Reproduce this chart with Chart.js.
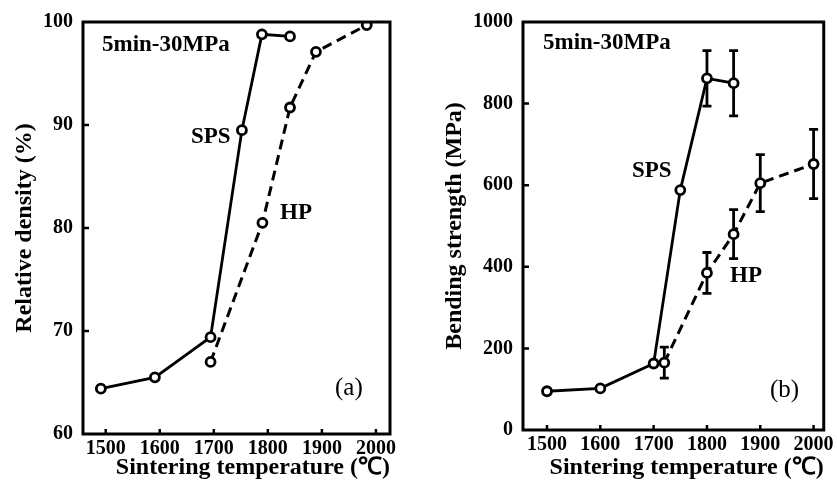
<!DOCTYPE html>
<html>
<head>
<meta charset="utf-8">
<script src="https://cdn.jsdelivr.net/npm/chart.js@4.4.1/dist/chart.umd.min.js"></script>
<style>
  html, body { margin: 0; padding: 0; background: #fff; }
  #wrap { position: relative; width: 837px; height: 490px; }
  .panel { position: absolute; top: 0; height: 490px; }
  #left { left: 0; width: 418px; }
  #right { left: 418px; width: 419px; }
</style>
</head>
<body>
<div id="wrap">
  <div class="panel" id="left"><canvas id="densityChart"></canvas></div>
  <div class="panel" id="right"><canvas id="strengthChart"></canvas></div>
</div>
<script>
// tick labels
const tempTicks = [1500, 1600, 1700, 1800, 1900, 2000];
const densityTicks = [60, 70, 80, 90, 100];
const strengthTicks = [0, 200, 400, 600, 800, 1000];

// (a) relative density
const densSpsTemp = [1491, 1591, 1694, 1752, 1789, 1841];
const densSps = [64.4, 65.5, 69.4, 89.5, 98.8, 98.6];
const densHpTemp = [1694, 1790, 1841, 1889, 1983];
const densHp = [67.0, 80.5, 91.7, 97.1, 99.7];

// (b) bending strength, with +/- error
const strSpsTemp = [1500, 1600, 1700, 1750, 1800, 1850];
const strSps = [95, 102, 163, 588, 862, 850];
const strSpsErr = [0, 0, 0, 0, 68, 80];
const strHpTemp = [1720, 1800, 1850, 1900, 2000];
const strHp = [165, 385, 480, 605, 652];
const strHpErr = [38, 50, 60, 70, 85];

const FONT = '"Liberation Serif", "Times New Roman", serif';

function pts(xs, ys) {
  return xs.map((x, i) => ({ x: x, y: ys[i] }));
}

// error bars drawn under the markers
const errorBars = {
  id: 'errorBars',
  beforeDatasetsDraw(chart, args, opts) {
    if (!opts.sets) return;
    const ctx = chart.ctx;
    const xs = chart.scales.x, ys = chart.scales.y;
    ctx.save();
    ctx.strokeStyle = '#000';
    ctx.lineWidth = 2.8;
    opts.sets.forEach(s => {
      s.x.forEach((t, i) => {
        const e = s.err[i];
        if (!e) return;
        const px = xs.getPixelForValue(t);
        const top = ys.getPixelForValue(s.y[i] + e);
        const bot = ys.getPixelForValue(s.y[i] - e);
        ctx.beginPath();
        ctx.moveTo(px, top); ctx.lineTo(px, bot);
        ctx.moveTo(px - 4.5, top); ctx.lineTo(px + 4.5, top);
        ctx.moveTo(px - 4.5, bot); ctx.lineTo(px + 4.5, bot);
        ctx.stroke();
      });
    });
    ctx.restore();
  }
};

// box frame, inward ticks and text labels
const frame = {
  id: 'frame',
  afterDraw(chart, args, opts) {
    const ctx = chart.ctx;
    const a = chart.chartArea;
    const xs = chart.scales.x, ys = chart.scales.y;
    ctx.save();
    ctx.strokeStyle = '#000';
    ctx.lineWidth = 3;
    ctx.strokeRect(a.left, a.top, a.right - a.left, a.bottom - a.top);
    ctx.lineWidth = 2.5;
    ctx.beginPath();
    xs.ticks.forEach(t => {
      const px = xs.getPixelForValue(t.value);
      ctx.moveTo(px, a.bottom); ctx.lineTo(px, a.bottom - 5);
    });
    ys.ticks.forEach(t => {
      const py = ys.getPixelForValue(t.value);
      if (py <= a.top + 2 || py >= a.bottom - 2) return;
      ctx.moveTo(a.left, py); ctx.lineTo(a.left + 6, py);
    });
    ctx.stroke();
    ctx.fillStyle = '#000';
    ctx.textBaseline = 'middle';
    ctx.textAlign = 'left';
    (opts.labels || []).forEach(l => {
      ctx.font = l.font;
      ctx.fillText(l.text, l.x, l.y);
    });
    ctx.restore();
  }
};

function makeChart(id, cfg) {
  const tickFont = { family: FONT, size: 20, weight: 'bold' };
  const titleFont = { family: FONT, size: 24, weight: 'bold' };
  return new Chart(document.getElementById(id), {
    type: 'line',
    data: {
      datasets: [
        {
          label: 'SPS',
          data: cfg.sps,
          borderColor: '#000',
          borderWidth: 2.8,
          pointRadius: 4.5,
          pointBorderWidth: 2.8,
          pointBackgroundColor: '#fff',
          pointBorderColor: '#000',
          tension: 0
        },
        {
          label: 'HP',
          data: cfg.hp,
          borderColor: '#000',
          borderWidth: 3,
          borderDash: [10, 6],
          pointRadius: 4.5,
          pointBorderWidth: 2.8,
          pointBackgroundColor: '#fff',
          pointBorderColor: '#000',
          tension: 0
        }
      ]
    },
    options: {
      responsive: true,
      maintainAspectRatio: false,
      animation: false,
      layout: { padding: { top: cfg.top, right: cfg.right, left: 0, bottom: 0 } },
      scales: {
        x: {
          type: 'linear',
          min: cfg.xMin,
          max: cfg.xMax,
          afterBuildTicks: s => { s.ticks = tempTicks.map(v => ({ value: v })); },
          afterFit: s => { s.height = cfg.xHeight; },
          grid: { display: false, drawTicks: false },
          border: { display: false },
          ticks: { color: '#000', font: tickFont, padding: 3, maxRotation: 0, autoSkip: false,
                   callback: v => String(v) },
          title: { display: true, text: 'Sintering temperature (℃)', color: '#000', font: titleFont,
                   align: 'end', padding: { top: 0, bottom: cfg.xTitlePad } }
        },
        y: {
          type: 'linear',
          min: cfg.yTicks[0],
          max: cfg.yTicks[cfg.yTicks.length - 1],
          afterBuildTicks: s => { s.ticks = cfg.yTicks.map(v => ({ value: v })); },
          afterFit: s => { s.width = cfg.yWidth; },
          grid: { display: false, drawTicks: false },
          border: { display: false },
          ticks: { color: '#000', font: tickFont, padding: 10, callback: v => String(v) },
          title: { display: true, text: cfg.yTitle, color: '#000', font: titleFont,
                   padding: { top: cfg.yTitlePad, bottom: 0 } }
        }
      },
      plugins: {
        legend: { display: false },
        tooltip: { enabled: false },
        errorBars: { sets: cfg.err },
        frame: { labels: cfg.labels }
      }
    },
    plugins: [errorBars, frame]
  });
}

const boldLbl = 'bold 23px ' + FONT;
const bigLbl = 'bold 23px ' + FONT;
const plainLbl = '25px ' + FONT;

makeChart('densityChart', {
  sps: pts(densSpsTemp, densSps),
  hp: pts(densHpTemp, densHp),
  xMin: 1458, xMax: 2026,
  yTicks: densityTicks,
  yTitle: 'Relative density (%)',
  top: 15, right: 28, xHeight: 56, yWidth: 83,
  xTitlePad: 8, yTitlePad: 10,
  err: null,
  labels: [
    { text: '5min-30MPa', x: 102, y: 45, font: boldLbl },
    { text: 'SPS', x: 191, y: 137, font: bigLbl },
    { text: 'HP', x: 280, y: 213, font: bigLbl },
    { text: '(a)', x: 335, y: 388, font: plainLbl }
  ]
});

makeChart('strengthChart', {
  sps: pts(strSpsTemp, strSps),
  hp: pts(strHpTemp, strHp),
  xMin: 1455, xMax: 2019,
  yTicks: strengthTicks,
  yTitle: 'Bending strength (MPa)',
  top: 12, right: 12, xHeight: 60, yWidth: 105,
  xTitlePad: 8, yTitlePad: 22,
  err: [
    { x: strSpsTemp, y: strSps, err: strSpsErr },
    { x: strHpTemp, y: strHp, err: strHpErr }
  ],
  labels: [
    { text: '5min-30MPa', x: 125, y: 43, font: boldLbl },
    { text: 'SPS', x: 214, y: 171, font: bigLbl },
    { text: 'HP', x: 312, y: 276, font: bigLbl },
    { text: '(b)', x: 352, y: 390, font: plainLbl }
  ]
});
</script>
</body>
</html>
